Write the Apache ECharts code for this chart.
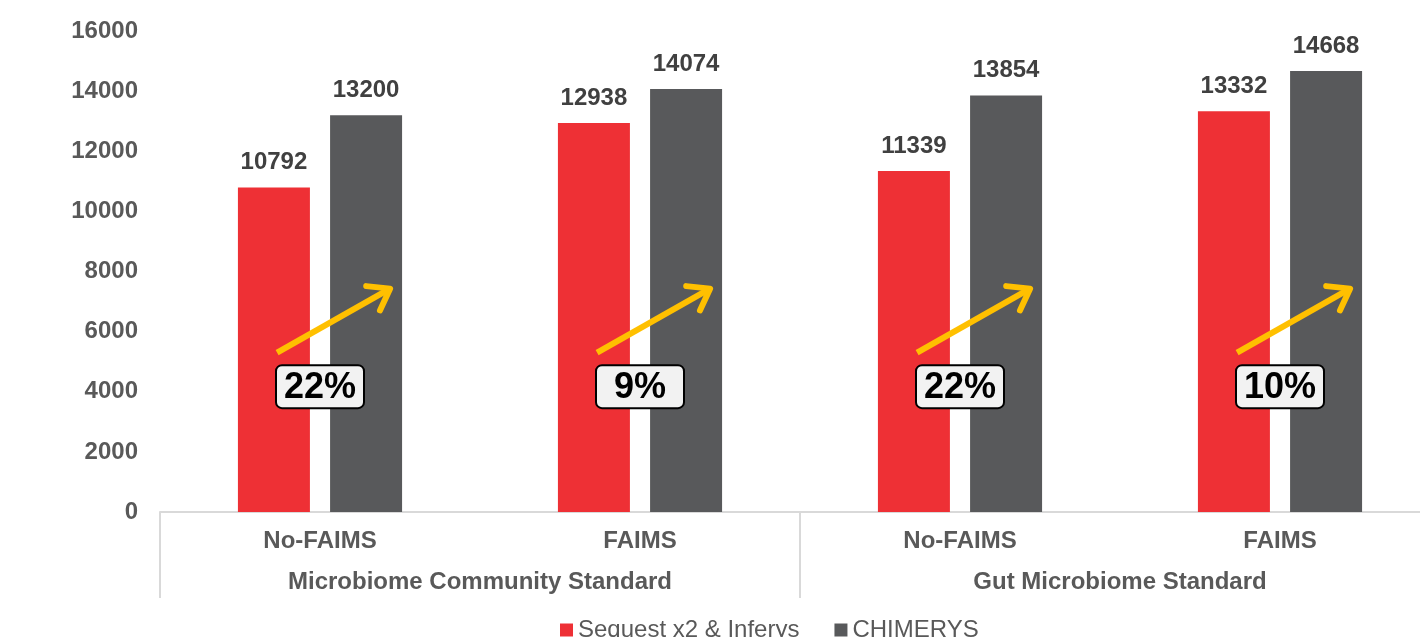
<!DOCTYPE html>
<html>
<head>
<meta charset="utf-8">
<script src="https://cdn.jsdelivr.net/npm/echarts@6/dist/echarts.min.js"></script>
<style>
    html, body { margin: 0; padding: 0; background: #fff; overflow: hidden; }
    /* the plot area runs past the right edge of the page, as in the original */
    #chart-container { width: 1440px; height: 637px; }
</style>
</head>
<body>
<div id="chart-container"></div>
<script>
// data
const categories = ['No-FAIMS', 'FAIMS', 'No-FAIMS', 'FAIMS'];
const groups = ['Microbiome Community Standard', 'Gut Microbiome Standard'];
const sequestValues = [10792, 12938, 11339, 13332];
const chimerysValues = [13200, 14074, 13854, 14668];
const gainLabels = ['22%', '9%', '22%', '10%'];
const yTicks = [0, 2000, 4000, 6000, 8000, 10000, 12000, 14000, 16000];

const FONT = '"Liberation Sans", Arial, sans-serif';
const RED = '#EE3035';
const GRAY = '#58595B';
const ARROW = '#FFC000';

const chart = echarts.init(document.getElementById('chart-container'));

// arrow + percentage box, drawn relative to each category's centre
const renderGain = (params, api) => {
    const idx = api.value(0);
    const bw = api.size([1, 0])[0];
    const a = api.coord([idx, 5300]);
    const b = api.coord([idx, 7430]);
    const x0 = a[0] - 0.134 * bw, y0 = a[1];
    const x1 = b[0] + 0.219 * bw, y1 = b[1];
    const ang = Math.atan2(y1 - y0, x1 - x0);
    const head = 24, spread = 0.62;
    const h1 = [x1 - head * Math.cos(ang - spread), y1 - head * Math.sin(ang - spread)];
    const h2 = [x1 - head * Math.cos(ang + spread), y1 - head * Math.sin(ang + spread)];
    const c = api.coord([idx, 4170]);
    const lineStyle = { stroke: ARROW, lineWidth: 6, lineCap: 'round', lineJoin: 'round', fill: null };
    return {
        type: 'group',
        children: [
            { type: 'line', shape: { x1: x0, y1: y0, x2: x1, y2: y1 }, style: Object.assign({}, lineStyle, { lineCap: 'butt' }) },
            { type: 'polyline', shape: { points: [h1, [x1, y1], h2] }, style: lineStyle },
            {
                type: 'rect',
                shape: { x: c[0] - 44, y: c[1] - 21.5, width: 88, height: 43, r: 6 },
                style: { fill: '#F2F2F2', stroke: '#000', lineWidth: 2 }
            },
            {
                type: 'text',
                x: c[0], y: c[1] + 1,
                style: {
                    text: gainLabels[params.dataIndex],
                    fill: '#000',
                    font: 'bold 36px ' + FONT,
                    align: 'center',
                    verticalAlign: 'middle'
                }
            }
        ]
    };
};

const valueLabel = {
    show: true,
    position: 'top',
    distance: 13,
    color: '#404040',
    fontFamily: FONT,
    fontWeight: 'bold',
    fontSize: 24
};

const option = {
    backgroundColor: '#fff',
    animation: false,
    grid: { left: 160, right: 0, top: 31, bottom: 125 },
    legend: {
        data: ['Sequest x2 & Inferys', 'CHIMERYS'],
        left: 555,
        top: 613,
        icon: 'rect',
        itemWidth: 13,
        itemHeight: 13,
        itemGap: 35,
        textStyle: { color: '#595959', fontFamily: FONT, fontSize: 24 }
    },
    xAxis: [
        {
            type: 'category',
            data: categories,
            axisLine: { lineStyle: { color: '#D9D9D9', width: 2 } },
            axisTick: { show: false },
            axisLabel: {
                margin: 17,
                color: '#595959',
                fontFamily: FONT,
                fontWeight: 'bold',
                fontSize: 24
            }
        },
        {
            type: 'category',
            data: groups,
            position: 'bottom',
            axisLine: { show: false },
            axisTick: { show: true, length: 86, lineStyle: { color: '#D9D9D9', width: 2 } },
            axisLabel: {
                margin: 58,
                color: '#595959',
                fontFamily: FONT,
                fontWeight: 'bold',
                fontSize: 24
            }
        }
    ],
    yAxis: {
        type: 'value',
        min: yTicks[0],
        max: yTicks[yTicks.length - 1],
        interval: yTicks[1] - yTicks[0],
        axisLine: { show: false },
        axisTick: { show: false },
        splitLine: { show: false },
        axisLabel: {
            margin: 22,
            formatter: (v) => String(v),
            color: '#595959',
            fontFamily: FONT,
            fontWeight: 'bold',
            fontSize: 24
        }
    },
    series: [
        {
            name: 'Sequest x2 & Inferys',
            type: 'bar',
            data: sequestValues,
            barWidth: 72,
            barGap: '28%',
            itemStyle: { color: RED },
            label: valueLabel
        },
        {
            name: 'CHIMERYS',
            type: 'bar',
            data: chimerysValues,
            barWidth: 72,
            itemStyle: { color: GRAY },
            label: valueLabel
        },
        {
            name: 'gain',
            type: 'custom',
            renderItem: renderGain,
            data: gainLabels.map((t, i) => [i]),
            encode: { x: 0 },
            z: 10,
            silent: true
        }
    ]
};

chart.setOption(option);
window.addEventListener('resize', () => chart.resize());
</script>
</body>
</html>
